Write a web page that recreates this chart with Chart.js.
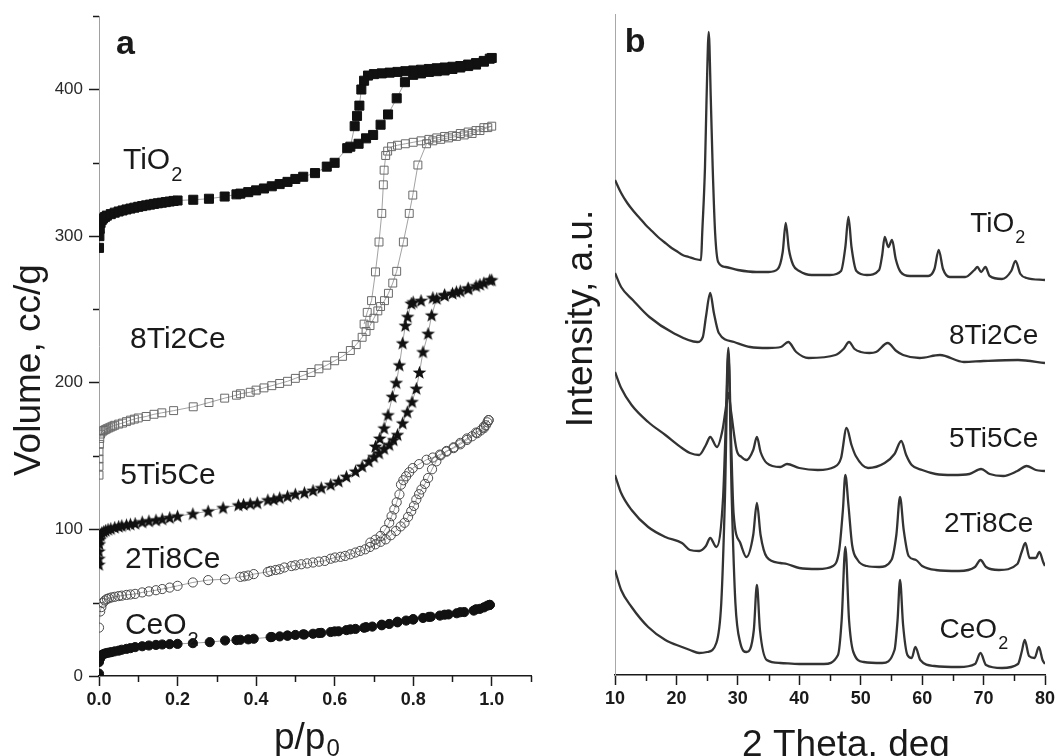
<!DOCTYPE html>
<html>
<head>
<meta charset="utf-8">
<script src="https://cdn.jsdelivr.net/npm/chart.js@4.4.1/dist/chart.umd.min.js"></script>
<style>
html, body { margin: 0; padding: 0; background: #fff; }
#wrap { position: relative; width: 1059px; height: 756px; overflow: hidden; }
canvas { position: absolute; top: 0; }
#chartA { left: 0; }
#chartB { left: 545px; }
</style>
</head>
<body>
<div id="wrap">
  <canvas id="chartA" width="545" height="756"></canvas>
  <canvas id="chartB" width="514" height="756"></canvas>
</div>
<script>
// ---- panel a: N2 isotherms, [p/p0, volume cc/g] ----
const tio2Ads = [[0,292],[0.001,300],[0.002,305],[0.004,309],[0.007,311],[0.01,312],[0.015,313],[0.02,314],[0.03,315],[0.04,316],
  [0.05,316.8],[0.06,317.5],[0.07,318.2],[0.08,318.8],[0.09,319.4],[0.1,320],[0.11,320.5],[0.12,321],[0.13,321.5],[0.14,322],
  [0.15,322.4],[0.16,322.8],[0.17,323.2],[0.18,323.6],[0.19,324],[0.2,324.3],[0.24,324.8],[0.28,325.5],[0.32,327],[0.35,328.5],
  [0.36,329],[0.38,330],[0.4,331.2],[0.42,332.5],[0.44,334],[0.46,335.5],[0.48,337],[0.5,339],[0.52,340.5],[0.55,343],
  [0.58,347.4],[0.6,350],[0.632,360],[0.661,363],[0.68,366.7],[0.698,369],[0.717,376],[0.736,383],[0.758,394],[0.779,405],
  [0.8,410],[0.82,411],[0.84,412],[0.86,412.5],[0.88,413],[0.9,414],[0.92,415],[0.94,416],[0.96,417],[0.98,419],[0.995,421]];
const tio2Des = [[1.0,421.5],[0.98,419.5],[0.96,418],[0.94,417],[0.92,416],[0.9,415.5],[0.88,415],[0.86,414.5],[0.84,414],
  [0.82,413.5],[0.8,413],[0.78,412.5],[0.76,412],[0.74,411.5],[0.72,411],[0.7,410.5],[0.685,409.5],[0.675,406],[0.668,400],
  [0.663,389],[0.657,382],[0.651,375],[0.64,361]];

const ti8ce2Ads = [[0,137],[0,143],[0,148],[0,153],[0.001,158],[0.002,162],[0.004,165],[0.008,166.5],[0.012,167.5],[0.016,168],
  [0.02,168.6],[0.025,169.2],[0.03,169.8],[0.035,170.4],[0.04,171],[0.05,171.8],[0.06,172.5],[0.07,173.5],[0.08,174.5],[0.09,175.2],
  [0.1,176],[0.12,177],[0.14,178.5],[0.16,179.5],[0.19,181],[0.24,183.6],[0.28,186.5],[0.32,189.5],[0.35,191.5],[0.36,192.5],
  [0.385,193.5],[0.4,195],[0.42,196.5],[0.44,198],[0.46,199.5],[0.48,201],[0.5,203],[0.52,205],[0.54,207],[0.56,209.5],
  [0.58,212],[0.6,215],[0.62,218],[0.64,222],[0.655,226],[0.67,231],[0.68,235],[0.69,239],[0.7,244],[0.71,249],
  [0.717,252],[0.727,256],[0.737,261],[0.748,268],[0.758,276],[0.775,296],[0.79,315.5],[0.799,328],[0.812,348.5],[0.834,363],
  [0.85,365],[0.87,366],[0.89,367],[0.91,368],[0.93,369],[0.95,370],[0.97,372],[0.99,374]];
const ti8ce2Des = [[1.0,375],[0.98,374],[0.96,372],[0.94,371],[0.92,370],[0.9,368.5],[0.88,368],[0.86,367],[0.84,366],
  [0.82,365],[0.8,364],[0.78,363],[0.76,362],[0.745,361],[0.735,358],[0.73,355],[0.726,345],[0.724,335],[0.72,315.5],
  [0.713,296],[0.704,275.6],[0.694,256],[0.683,248],[0.675,240]];

const ti5ce5Ads = [[0,76],[0,80],[0,85],[0.001,90],[0.002,93],[0.004,96],[0.007,97.7],[0.012,98.5],[0.017,99.2],[0.023,100],
  [0.03,100.5],[0.04,101.3],[0.05,102],[0.058,102.5],[0.07,103],[0.08,103.5],[0.092,104],[0.11,105],[0.127,105.7],[0.145,106.3],
  [0.161,107],[0.18,108],[0.2,109],[0.239,110.6],[0.278,112.4],[0.316,114.7],[0.355,116.5],[0.368,117],[0.385,117.5],[0.403,118],
  [0.43,120],[0.445,120.5],[0.46,121.5],[0.48,122.6],[0.5,124],[0.523,125],[0.545,126.5],[0.566,128.3],[0.59,130.5],[0.61,132.8],
  [0.63,136],[0.653,139.6],[0.67,143],[0.687,146.4],[0.7,149.5],[0.713,152],[0.726,155],[0.739,157.7],[0.75,161],[0.76,164.5],
  [0.773,172.4],[0.785,180],[0.797,187],[0.808,196],[0.816,207],[0.825,221],[0.838,233.5],[0.847,246],[0.86,257.4],[0.88,259.5],
  [0.9,261],[0.92,262.5],[0.94,264],[0.96,266],[0.98,268],[0.995,270]];
const ti5ce5Des = [[1.0,270],[0.97,267],[0.94,264.5],[0.91,262],[0.88,260],[0.85,258],[0.82,256],[0.8,255],[0.795,254],
  [0.786,245],[0.78,239],[0.773,227],[0.765,212],[0.757,200],[0.747,190.5],[0.736,178],[0.726,169],[0.715,162],[0.704,156.6]];

const ti2ce8Ads = [[0,33],[0.003,44],[0.006,47],[0.01,50],[0.015,51.5],[0.02,52.5],[0.025,53],[0.032,53.6],[0.04,54],[0.05,54.5],
  [0.058,54.8],[0.07,55.3],[0.08,55.6],[0.092,56],[0.11,57],[0.127,57.7],[0.145,58.5],[0.161,59.3],[0.18,60.3],[0.2,61.5],
  [0.239,63.8],[0.278,65.4],[0.321,66],[0.36,67.6],[0.37,68],[0.38,68.5],[0.394,69.5],[0.43,71],[0.437,71.7],[0.45,72.3],
  [0.46,72.8],[0.472,74],[0.49,75],[0.5,75.5],[0.515,76.2],[0.53,76.8],[0.545,77.4],[0.56,78],[0.575,78.5],[0.59,80],
  [0.601,80.8],[0.615,81.3],[0.627,81.9],[0.64,83],[0.653,84.2],[0.665,85.3],[0.678,86.4],[0.69,88],[0.704,89.8],[0.717,91.5],
  [0.73,93.2],[0.743,96],[0.756,98.9],[0.768,102],[0.778,104.5],[0.787,108.5],[0.795,112.4],[0.802,116],[0.808,120.4],[0.815,124],
  [0.821,127.2],[0.83,131],[0.838,135],[0.848,141],[0.859,146.4],[0.87,150.5],[0.885,153.5],[0.903,155.4],[0.92,158],[0.937,161],
  [0.95,163.5],[0.963,165.6],[0.972,167.5],[0.98,169],[0.985,171],[0.989,173],[0.992,174.5]];
const ti2ce8Des = [[0.992,174.5],[0.98,170],[0.96,166],[0.937,162],[0.92,159],[0.903,156],[0.885,153],[0.868,151],[0.85,149],
  [0.834,147.5],[0.815,144.5],[0.799,141.8],[0.79,139],[0.782,136.2],[0.775,133.5],[0.769,130.5],[0.765,123.8],[0.758,118.5],
  [0.752,113.6],[0.745,109],[0.739,104.5],[0.728,99.5],[0.717,95.5],[0.704,93],[0.691,91]];

const ceo2Ads = [[0,1.6],[0,9.5],[0.003,12],[0.006,14],[0.01,14.8],[0.015,15.3],[0.02,15.7],[0.026,16],[0.032,16.3],[0.04,16.8],
  [0.05,17.3],[0.058,17.9],[0.07,18.5],[0.08,19],[0.092,19.7],[0.11,20.3],[0.127,20.8],[0.145,21.2],[0.161,21.5],[0.18,21.7],
  [0.2,21.9],[0.239,22.4],[0.282,23.1],[0.321,24.2],[0.35,24.5],[0.36,24.7],[0.38,25],[0.394,25.4],[0.437,26.5],[0.46,27],
  [0.48,27.6],[0.5,28],[0.523,28.3],[0.545,28.8],[0.566,29.4],[0.59,30],[0.61,30.5],[0.63,31.3],[0.653,32.1],[0.675,32.9],
  [0.696,33.7],[0.72,34.6],[0.739,35.5],[0.76,36.6],[0.782,37.8],[0.8,38.5],[0.825,39.6],[0.845,40.4],[0.868,41.2],[0.89,42],
  [0.911,42.8],[0.93,43.6],[0.954,44.6],[0.97,45.8],[0.98,46.8],[0.989,48],[0.995,48.5]];
const ceo2Des = [[0.995,48.5],[0.96,45.5],[0.92,43.5],[0.88,41.8],[0.84,40.3],[0.8,38.8],[0.76,37],[0.72,35],[0.68,33.3],
  [0.64,31.8],[0.6,30.4],[0.56,29.3],[0.52,28.4],[0.48,27.5],[0.44,26.6]];

const pLabels = [0, 0.2, 0.4, 0.6, 0.8, 1.0];
const volLabels = [0, 100, 200, 300, 400];

// ---- panel b: XRD patterns (2 theta, offset intensity a.u.) ----
const tio2Theta = [10,11,12,13,14,15,16,17,18,19,20,21,22,23,24,24.2,24.65,24.9,25.26,25.6,25.9,26.3,26.8,28,30,33,35,36.5,37.3,37.8,
  38.3,39,40,42,45,46.8,47.5,48,48.5,49.3,51,53,53.5,53.9,54.5,55.1,55.7,56.5,58,61,62,62.7,63.4,64.5,67,68.5,69,69.6,70.3,71,
  73,74.5,75.2,76,77,80];
const tio2Int = [495,482,472,464,457,450,444,438,433,428,424,420,418,416,415,442,508,575,643,575,508,442,413,408,405,403,403,406,423,452,
  426,410,404,400,400,404,428,458,428,404,400,405,420,438,428,435,416,403,399,399,406,425,406,398,398,405,408,403,408,399,
  396,404,414,401,397,395];

const ti8ce2Theta = [10,11,12.9,15.6,19.5,23.4,24.3,24.8,25.5,26.1,26.9,29.4,32,34.9,37,38.2,39.5,41.5,45.9,47.2,48.1,49,50,51.4,52.5,
  54.4,55.8,56.9,59.6,62.9,66.8,70,75.6,80];
const ti8ce2Int = [402,388,375,358,342,333,338,358,382,362,342,333,328,327,328,333,323,317,320,326,333,326,323,322,323,
  332,324,320,317,320,313,314,315,312];

const ti5ce5Theta = [10,11,12.7,15.4,18.2,20.9,22.2,23.7,24.8,25.5,26.6,27.5,28,28.45,28.9,29.8,30.6,31.4,32.5,33.1,33.7,34.7,36.9,38,40,
  43,45.7,46.8,47.7,48.5,49.2,51.2,53.9,55.5,56.6,57.4,58.3,60,62.2,65,67.7,69.6,71,73.2,75.5,77,78.5,80];
const ti5ce5Int = [303,287,270,253,240,227,222,220,230,238,228,245,265,282,263,225,218,215,225,238,223,212,208,211,207,
  205,208,217,247,230,219,207,212,221,234,220,210,205,201,200,201,206,201,199,204,209,205,204];

const ti2ce8Theta = [10,11,12.7,15.4,18.2,20.9,22.2,23.7,24.8,25.5,26.5,27.6,28,28.45,28.9,29.3,30.4,31.4,32.5,33.1,33.7,34.7,36.9,38,40,
  43,45.5,46.5,47.1,47.5,48,48.6,49.5,51,53,55,55.8,56.4,57,57.8,59,60,62.2,66,68.6,69.5,70.4,72.5,75.5,76.2,76.8,77.5,78.5,79.1,79.7,80];
const ti2ce8Int = [200,182,165,148,138,132,125,124,129,137,128,178,245,327,235,162,132,118,140,172,140,118,112,111,107,
  106,109,125,165,200,170,130,115,109,108,115,140,178,145,119,115,109,105,104,108,115,108,105,111,123,132,117,117,123,113,109];

const ceo2Theta = [10,11,12.7,15.4,18.2,20.9,22.2,23.7,25,26.5,27.3,27.9,28.45,29,29.6,30.4,31.4,32.6,33.1,33.6,34.7,36.9,40,44,46.3,
  46.9,47.5,48.1,48.8,50.5,53.5,55.5,56,56.4,56.9,57.6,58.3,58.9,59.7,62,66,68.6,69.5,70.4,73,75.6,76.2,76.7,77.4,78.3,79,79.6,80];
const ceo2Int = [105,85,68,48,35,28,25,22,23,32,72,178,323,178,72,32,23,45,90,45,15,12,11,11,20,
  55,128,55,23,13,12,25,55,95,50,20,17,28,15,9,8,11,22,10,7,11,23,35,19,17,28,15,11];

const thetaLabels = [10, 20, 30, 40, 50, 60, 70, 80];

// ---- helpers ----
const FONT = "'Liberation Sans', Arial, sans-serif";
Chart.defaults.font.family = FONT;
Chart.defaults.color = '#1a1a1a';

const pairs = arr => arr.map(([x, y]) => ({x, y}));
const zip = (xs, ys) => xs.map((x, i) => ({x, y: ys[i]}));
const near = (list, v) => list.some(l => Math.abs(l - v) < 1e-6);

// filled five point star for 5Ti5Ce
const starImg = document.createElement('canvas');
starImg.width = 15; starImg.height = 15;
(function () {
  const c = starImg.getContext('2d');
  c.beginPath();
  for (let i = 0; i < 10; i++) {
    const r = i % 2 ? 3 : 7.2;
    const a = -Math.PI / 2 + i * Math.PI / 5;
    c.lineTo(7.5 + r * Math.cos(a), 7.9 + r * Math.sin(a));
  }
  c.closePath();
  c.fillStyle = '#111';
  c.fill();
})();

function drawText(ctx, t) {
  const main = (t.bold ? 'bold ' : '') + t.size + 'px ' + FONT;
  const subSize = Math.round(t.size * 0.66);
  const subFont = subSize + 'px ' + FONT;
  ctx.font = main;
  const w1 = ctx.measureText(t.text).width;
  let w2 = 0;
  if (t.sub) { ctx.font = subFont; w2 = ctx.measureText(t.sub).width + 1; }
  let x0 = t.x;
  if (t.align === 'right') x0 = t.x - w1 - w2;
  if (t.align === 'center') x0 = t.x - (w1 + w2) / 2;
  ctx.textAlign = 'left';
  ctx.textBaseline = 'alphabetic';
  ctx.fillStyle = '#1a1a1a';
  ctx.font = main;
  ctx.fillText(t.text, x0, t.y);
  if (t.sub) {
    ctx.font = subFont;
    ctx.fillText(t.sub, x0 + w1 + 1, t.y + (t.subDy != null ? t.subDy : t.size * 0.4));
  }
}

// text placed in data coordinates (sample labels) plus axis titles around the chart area
function annotations(labels, titles) {
  return {
    id: 'annotations',
    afterDraw(chart) {
      const ctx = chart.ctx, xs = chart.scales.x, ys = chart.scales.y, area = chart.chartArea;
      ctx.save();
      labels.forEach(l => drawText(ctx, Object.assign({}, l, {
        x: xs.getPixelForValue(l.x), y: ys.getPixelForValue(l.y)
      })));
      titles.forEach(t => {
        if (t.rotate) {
          ctx.save();
          ctx.translate(area.left + t.dx, (area.top + area.bottom) / 2 + t.dy);
          ctx.rotate(-Math.PI / 2);
          ctx.font = t.size + 'px ' + FONT;
          ctx.fillStyle = '#1a1a1a';
          ctx.textAlign = 'center';
          ctx.textBaseline = 'alphabetic';
          ctx.fillText(t.text, 0, 0);
          ctx.restore();
        } else {
          drawText(ctx, Object.assign({}, t, { x: area.left + t.dx, y: t.y }));
        }
      });
      ctx.restore();
    }
  };
}

// shorter minor ticks drawn on top of the axes
function minorTicks(specs) {
  return {
    id: 'minorTicks',
    afterDraw(chart) {
      const ctx = chart.ctx;
      ctx.save();
      ctx.strokeStyle = '#1a1a1a';
      ctx.lineWidth = 1.5;
      specs.forEach(s => {
        const sc = chart.scales[s.axis];
        sc.ticks.forEach(t => {
          if (s.isMajor(t.value)) return;
          const p = Math.round(sc.getPixelForValue(t.value)) + 0.5;
          ctx.beginPath();
          if (sc.isHorizontal()) { ctx.moveTo(p, sc.top); ctx.lineTo(p, sc.top + s.len); }
          else { ctx.moveTo(sc.right, p); ctx.lineTo(sc.right - s.len, p); }
          ctx.stroke();
        });
      });
      ctx.restore();
    }
  };
}

const isMajorP = v => near(pLabels, v);
const isMajorVol = v => near(volLabels, v);
const isMajorTheta = v => near(thetaLabels, v);

function isoSet(label, ads, des, style) {
  return Object.assign({
    label,
    data: pairs(ads.concat(des)),
    showLine: true,
    borderColor: '#8a8a8a',
    borderWidth: 0.8,
    pointBorderWidth: 1,
    clip: 0
  }, style);
}

// ---- chart a ----
new Chart(document.getElementById('chartA'), {
  type: 'scatter',
  data: {
    datasets: [
      isoSet('TiO2', tio2Ads, tio2Des, { pointStyle: 'rect', pointRadius: 6.4, pointBackgroundColor: '#111', pointBorderColor: '#111' }),
      isoSet('8Ti2Ce', ti8ce2Ads, ti8ce2Des, { pointStyle: 'rect', pointRadius: 5.6, pointBackgroundColor: 'rgba(255,255,255,0)', pointBorderColor: '#6a6a6a' }),
      isoSet('5Ti5Ce', ti5ce5Ads, ti5ce5Des, { pointStyle: starImg, pointRadius: 7 }),
      isoSet('2Ti8Ce', ti2ce8Ads, ti2ce8Des, { pointStyle: 'circle', pointRadius: 4.6, pointBackgroundColor: 'rgba(255,255,255,0)', pointBorderColor: '#4a4a4a' }),
      isoSet('CeO2', ceo2Ads, ceo2Des, { pointStyle: 'circle', pointRadius: 4.6, pointBackgroundColor: '#111', pointBorderColor: '#111' })
    ]
  },
  options: {
    responsive: false,
    animation: false,
    layout: { padding: { left: 0, right: 14, top: 14, bottom: 0 } },
    plugins: { legend: { display: false }, tooltip: { enabled: false } },
    scales: {
      x: {
        type: 'linear', min: 0, max: 1.1,
        afterFit: s => { s.height = 80; },
        border: { color: '#1a1a1a', width: 1.5 },
        grid: { drawOnChartArea: false, tickLength: 10, tickWidth: 1.5,
          tickColor: c => (c.tick && isMajorP(c.tick.value)) ? '#1a1a1a' : 'rgba(0,0,0,0)' },
        ticks: { stepSize: 0.1, autoSkip: false, maxRotation: 0, padding: 3,
          font: { size: 18, weight: 'bold' }, color: '#1a1a1a',
          callback: v => isMajorP(v) ? v.toFixed(1) : '' }
      },
      y: {
        min: 0, max: 450,
        afterFit: s => { s.width = 99; },
        border: { color: '#a0a0a0', width: 1 },
        grid: { drawOnChartArea: false, tickLength: 10, tickWidth: 1.5,
          tickColor: c => (c.tick && isMajorVol(c.tick.value)) ? '#1a1a1a' : 'rgba(0,0,0,0)' },
        ticks: { stepSize: 50, autoSkip: false, padding: 6, font: { size: 17 }, color: '#2a2a2a',
          callback: v => isMajorVol(v) ? String(v) : '' }
      }
    }
  },
  plugins: [
    minorTicks([{ axis: 'x', isMajor: isMajorP, len: 6 }, { axis: 'y', isMajor: isMajorVol, len: 6 }]),
    annotations([
      { text: 'a', x: 0.043, y: 424, size: 34, bold: true },
      { text: 'TiO', sub: '2', x: 0.061, y: 346, size: 30 },
      { text: '8Ti2Ce', x: 0.079, y: 223.7, size: 30 },
      { text: '5Ti5Ce', x: 0.054, y: 131.2, size: 30 },
      { text: '2Ti8Ce', x: 0.066, y: 73.4, size: 30 },
      { text: 'CeO', sub: '2', x: 0.066, y: 28.6, size: 30 }
    ], [
      { text: 'Volume, cc/g', rotate: true, dx: -59, dy: 24, size: 37 },
      { text: 'p/p', sub: '0', dx: 175, y: 749, size: 37, subDy: 7 }
    ])
  ]
});

// ---- chart b ----
function xrdSet(label, theta, intensity) {
  return {
    label,
    data: zip(theta, intensity),
    showLine: true,
    borderColor: '#333333',
    borderWidth: 2.3,
    pointRadius: 0,
    cubicInterpolationMode: 'monotone'
  };
}

new Chart(document.getElementById('chartB'), {
  type: 'scatter',
  data: {
    datasets: [
      xrdSet('TiO2', tio2Theta, tio2Int),
      xrdSet('8Ti2Ce', ti8ce2Theta, ti8ce2Int),
      xrdSet('5Ti5Ce', ti5ce5Theta, ti5ce5Int),
      xrdSet('2Ti8Ce', ti2ce8Theta, ti2ce8Int),
      xrdSet('CeO2', ceo2Theta, ceo2Int)
    ]
  },
  options: {
    responsive: false,
    animation: false,
    layout: { padding: { left: 0, right: 14, top: 14, bottom: 0 } },
    plugins: { legend: { display: false }, tooltip: { enabled: false } },
    scales: {
      x: {
        type: 'linear', min: 10, max: 80,
        afterFit: s => { s.height = 81; },
        border: { color: '#1a1a1a', width: 1.5 },
        grid: { drawOnChartArea: false, tickLength: 10, tickWidth: 1.5,
          tickColor: c => (c.tick && isMajorTheta(c.tick.value)) ? '#1a1a1a' : 'rgba(0,0,0,0)' },
        ticks: { stepSize: 5, autoSkip: false, maxRotation: 0, padding: 3,
          font: { size: 18, weight: 'bold' }, color: '#1a1a1a',
          callback: v => isMajorTheta(v) ? String(v) : '' }
      },
      y: {
        min: 0, max: 661,
        afterFit: s => { s.width = 70; },
        border: { color: '#a8a8a8', width: 1 },
        grid: { drawOnChartArea: false, drawTicks: false },
        ticks: { display: false }
      }
    }
  },
  plugins: [
    minorTicks([{ axis: 'x', isMajor: isMajorTheta, len: 6 }]),
    annotations([
      { text: 'b', x: 11.6, y: 623, size: 34, bold: true },
      { text: 'TiO', sub: '2', x: 76.8, y: 443, size: 28, align: 'right' },
      { text: '8Ti2Ce', x: 78.9, y: 331, size: 28, align: 'right' },
      { text: '5Ti5Ce', x: 78.9, y: 228, size: 28, align: 'right' },
      { text: '2Ti8Ce', x: 78.1, y: 143, size: 28, align: 'right' },
      { text: 'CeO', sub: '2', x: 74.0, y: 37, size: 28, align: 'right' }
    ], [
      { text: 'Intensity, a.u.', rotate: true, dx: -23, dy: -26, size: 37 },
      { text: '2 Theta, deg', dx: 231, y: 756, size: 37, align: 'center' }
    ])
  ]
});
</script>
</body>
</html>
